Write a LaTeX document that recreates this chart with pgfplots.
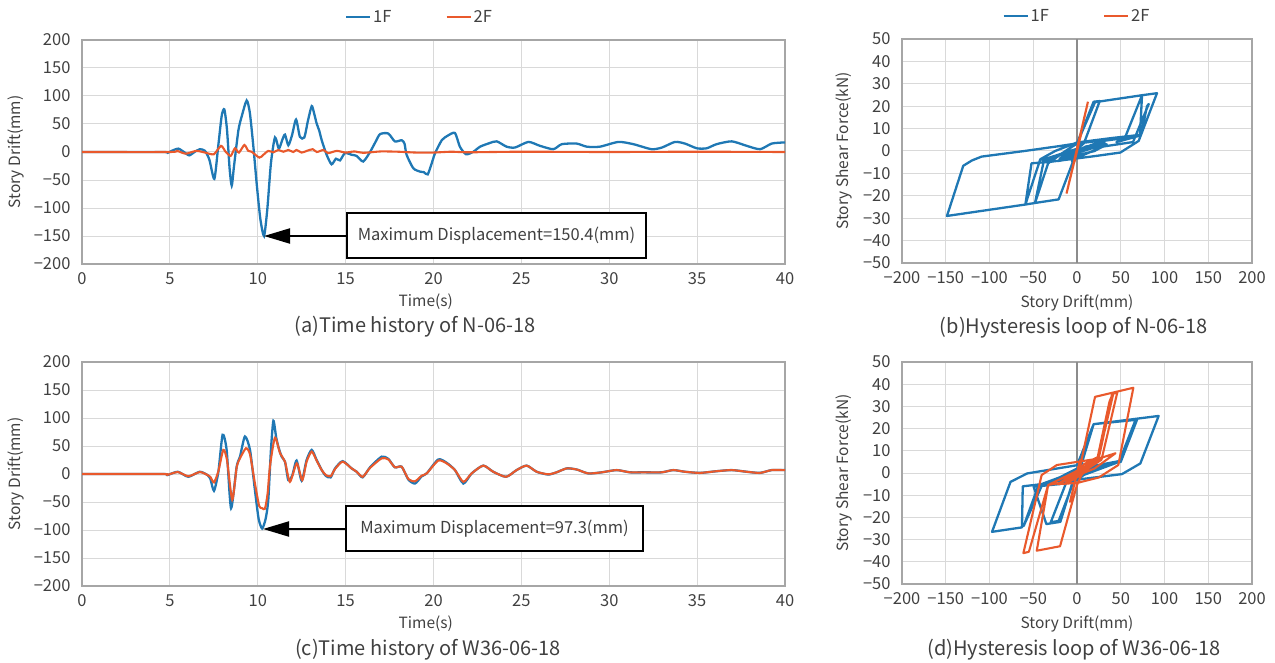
\documentclass[border=0pt]{standalone}
\usepackage{fontspec}
\setmainfont{Noto Sans CJK KR}
\usepackage{pgfplots}
\pgfplotsset{compat=1.18}
\usetikzlibrary{arrows.meta}
\definecolor{c1}{HTML}{1F78B4}
\definecolor{c2}{HTML}{E9592C}
\definecolor{gridc}{HTML}{D9D9D9}
\definecolor{axc}{HTML}{A6A6A6}
\definecolor{zeroc}{HTML}{8C8C8C}
\definecolor{txt}{HTML}{404040}
\newcommand\tfont{\fontsize{16.5}{19}\selectfont}
\newcommand\lfont{\fontsize{15.5}{18}\selectfont}
\newcommand\cfont{\fontsize{20}{24}\selectfont}
\pgfplotsset{
 base/.style={scale only axis, axis line style={draw=axc, line width=1.3pt},
  /pgf/number format/assume math mode=true,
  grid=major, major grid style={draw=gridc, line width=1pt},
  major tick length=0pt, tick style={draw=none},
  ticklabel style={font=\tfont, text=txt},
  xticklabel style={yshift=-5pt}, yticklabel style={xshift=-8pt},
  label style={font=\lfont, text=txt}},
 th/.style={base, width=703pt, height=224pt, xmin=0, xmax=40, ymin=-200, ymax=200,
  xtick={0,5,...,40}, xticklabels={0,5,10,15,20,25,30,35,40},
  ytick={-200,-150,...,200},
  yticklabels={−200,−150,−100,−50,0,50,100,150,200},
  xlabel={Time(s)}, ylabel={Story Drift(mm)},
  xlabel style={at={(axis description cs:0.489,-0.1696)}, anchor=center},
  ylabel style={at={(axis description cs:-0.0939,0.5)}, anchor=center}},
 hy/.style={base, width=350pt, xmin=-200, xmax=200, ymin=-50, ymax=50,
  xtick={-200,-150,...,200}, ytick={-50,-40,...,50},
  xticklabels={−200,−150,−100,−50,0,50,100,150,200},
  yticklabels={−50,−40,−30,−20,−10,0,10,20,30,40,50},
  extra x ticks={0}, extra x tick labels={},
  extra x tick style={major grid style={draw=zeroc, line width=1.2pt}},
  xlabel={Story Drift(mm)}, ylabel={Story Shear Force(kN)},
  xlabel style={at={(axis description cs:0.5,-0.1786)}, anchor=center},
  ylabel style={at={(axis description cs:-0.1657,0.5)}, anchor=center}},
 leg/.style={legend columns=2, legend style={draw=none, fill=none, font=\tfont, text=txt,
  /tikz/every even column/.append style={column sep=52pt}},
  legend image code/.code={\draw[##1, line width=2.2pt] (0pt,0pt)--(24pt,0pt);}},
 l1/.style={c1, line width=2.3pt},
 l2/.style={c2, line width=2.1pt}
}
\begin{document}
\begin{tikzpicture}
\useasboundingbox (0,0) rectangle (1275pt,-663pt);
% (a)
\begin{axis}[th, leg, at={(82pt,-264pt)}, anchor=south west,
  legend style={at={(0.48,1)}, anchor=center, yshift=23pt}]
\addplot[l1, smooth, tension=0.4] coordinates {
(0,0)(4.6,0)(4.82,-2)(5.1,2)(5.48,6)(5.8,0)(6.1,-6)(6.4,0)(6.71,5)(7.0,2)(7.25,-14)(7.53,-48)(7.75,10)(7.95,65)(8.10,76)(8.25,40)(8.40,-30)(8.52,-60)(8.65,-25)(8.9,39)(9.1,65)(9.37,92)(9.55,70)(9.75,10)(9.95,-60)(10.15,-120)(10.36,-150)(10.55,-100)(10.75,-20)(10.98,26)(11.2,6)(11.4,22)(11.55,31)(11.74,12)(11.95,30)(12.18,58)(12.4,27)(12.65,26)(12.85,55)(13.07,82)(13.2,70)(13.35,51)(13.5,38)(13.64,21)(13.92,-5)(14.2,-22)(14.45,-12)(14.68,-15)(14.96,-2)(15.35,-5)(15.63,-7)(16.0,-17)(16.39,0)(16.7,18)(16.96,32)(17.43,33)(17.8,19)(18.19,21)(18.35,15)(18.47,-5)(18.85,-29)(19.23,-35)(19.45,-36)(19.67,-40)(19.9,-20)(20.09,-2)(20.47,21)(20.8,29)(21.22,34)(21.5,9.5)(21.85,-4)(22.27,0.5)(22.65,9.5)(23.2,16)(23.6,19)(24.16,9.5)(24.64,8)(25.4,18)(26.06,11)(26.82,5)(27.3,14)(28.15,15)(28.72,9.5)(29.47,9.5)(30.52,18)(31.37,14)(32.4,5)(33.0,8)(33.74,18)(34.31,15)(34.98,6.6)(35.54,6.6)(36.11,14)(36.97,19)(37.82,11)(38.58,5)(39.24,15)(39.9,17)(40,17)};
\addlegendentry{1F}
\addplot[l2, smooth, tension=0.4] coordinates {
(0,0)(5.0,0)(5.4,2)(5.9,-3)(6.5,2)(7.0,-1)(7.5,-4)(7.91,11)(8.17,0.5)(8.46,-7)(8.7,6.6)(8.93,-1)(9.24,12.5)(9.46,2)(9.65,0.5)(10.09,-10)(10.32,-5)(10.6,2)(10.89,-0.5)(11.17,3.6)(11.46,0.5)(11.74,3.6)(12.02,0)(12.2,3.6)(12.5,-1)(12.79,2)(13.13,5)(13.36,0)(13.74,3.6)(14.0,-2)(14.5,2)(15,-1)(15.5,1)(16,-1.5)(17,1)(18,0.5)(19,-1)(20,-1)(21,0.5)(22,-0.5)(25,0.5)(30,0)(35,0.5)(40,0)};
\addlegendentry{2F}
\end{axis}
% (c)
\begin{axis}[th, at={(82pt,-586pt)}, anchor=south west]
\addplot[l1, smooth, tension=0.4] coordinates {
(0,0)(4.6,0)(4.85,-2)(5.45,4)(6.05,-5)(6.7,4)(7.15,-2)(7.3,-8)(7.51,-30)(7.76,4)(8.0,70)(8.23,43)(8.48,-61)(8.8,13)(8.99,31)(9.27,67)(9.56,43)(9.84,-29)(10.05,-80)(10.25,-97.3)(10.45,-80)(10.6,-46)(10.75,43)(10.89,95)(11.05,65)(11.17,49)(11.36,31)(11.55,22)(11.74,-11)(11.97,-2)(12.21,24)(12.5,-12)(12.78,25)(13.07,43)(13.35,25)(13.64,7)(13.88,-3.6)(14.15,-6)(14.4,10)(14.83,23)(15.34,10)(15.63,4)(15.97,-6)(16.39,12)(17.05,31)(17.43,27)(17.8,12)(18.19,13)(18.57,-10)(18.95,-17)(19.33,-4)(19.61,1)(20.27,26)(20.75,20)(21.22,7)(21.7,-17)(22.17,1)(22.83,15)(23.4,4)(24.13,-5)(24.73,7)(25.3,15)(25.87,4)(26.53,-1)(27.0,3)(27.58,10)(28.15,8)(28.81,1)(29.57,3)(30.42,7)(31.18,3)(31.94,3)(32.98,3)(33.64,7)(34.31,4)(35.16,2)(36.11,5)(36.97,7)(37.82,4)(38.58,2)(39.24,7)(39.9,7)(40,7)};
\addplot[l2, smooth, tension=0.4] coordinates {
(0,0)(4.6,0)(4.85,-1.5)(5.45,3.5)(6.05,-4)(6.7,3.5)(7.15,-2)(7.3,-5)(7.51,-15)(7.76,5)(8.04,43)(8.25,25)(8.55,-46)(8.8,12)(8.99,28)(9.33,46)(9.56,35)(9.84,-17)(10.08,-57)(10.25,-61)(10.41,-62)(10.56,-35)(10.7,15)(10.98,65)(11.27,37)(11.55,22)(11.83,-14)(12.22,19)(12.53,-11)(12.78,22)(13.07,40)(13.35,24)(13.64,7)(13.88,-2)(14.15,-4)(14.4,9)(14.83,22)(15.34,10)(15.63,4)(15.97,-5)(16.39,11)(17.05,28)(17.43,26)(17.8,12)(18.19,13)(18.57,-9)(18.95,-13)(19.33,-3)(19.61,1)(20.27,24)(20.75,19)(21.22,7)(21.7,-14)(22.17,1)(22.83,15)(23.4,4)(24.13,-5)(24.73,7)(25.3,15)(25.87,4)(26.53,-0.5)(27.0,3)(27.58,10)(28.15,8)(28.81,1)(29.57,3)(30.42,7)(31.18,3)(31.94,3)(32.98,3)(33.64,7)(34.31,4)(35.16,2)(36.11,5)(36.97,7)(37.82,4)(38.58,2)(39.24,7)(39.9,7)(40,7)};
\end{axis}
% (b)
\begin{axis}[hy, leg, height=224pt, at={(902pt,-263pt)}, anchor=south west,
  legend style={at={(0.5,1)}, anchor=center, yshift=23pt}]
\addplot[l1, line join=round] coordinates {
(0,0)(4,3.5)(-6,-4.5)(4,3.5)(0,0)(-21,-21.6)(-48,-23.2)(-33,-5.5)(-15,-0.5)(0,3.4)(20.6,21.8)(74.3,24.9)(55.2,6.3)(30,4.8)(0,3.3)(-25,-3)(-38,-4.5)(-48,-23.2)(-59,-23.9)(-42,-3.7)(-25,0)(0,3.8)(40,5.8)(72,7.2)(74.3,24.9)(91.4,25.8)(70.5,4.5)(49.5,-0.7)(20,-2.3)(0,-3.3)(-30,-4.8)(-52,-5.5)(-59,-23.9)(-148.6,-29)(-130,-6.6)(-120,-4.2)(-109,-2.5)(-60,0)(-20,2.2)(0,3.4)(19,22)(26,22.3)(8,3.5)(-5,-1)(10,2)(32,3.5)(15,2.5)(30,4.5)(58,6)(45,4)(50,4.5)(73,7)(80,20)(82,21)(64,4)(30,2)(0,-3)(-22,-4.5)(0,-2)(20,0)(34,3)(15,1)(-20,-3.5)(-5,0)(20,2)(-40,-4)(0,1)};
\addlegendentry{1F}
\addplot[l2] coordinates {(0,0)(5,8)(-3,-5)(12.5,22)(-12,-19)(3,5)(0,0)};
\addlegendentry{2F}
\end{axis}
% (d)
\begin{axis}[hy, height=222pt, at={(902pt,-584pt)}, anchor=south west,
  xlabel style={at={(axis description cs:0.5,-0.18)}}]
\addplot[l1, line join=round] coordinates {
(0,0)(3,3)(-5,-4)(3,3)(-21,-21.6)(-30,-22.2)(-12,-4)(0,1)(5,3.8)(19,22)(68.6,24)(50,5)(25,3)(0,1)(-20,-3)(-40,-5.5)(-61,-23.9)(-44,-5.5)(-20,-2)(0,2)(30,4)(50,5.5)(67,24)(48,5)(0,-2)(-40,-5)(-62,-6)(-62.9,-24.5)(-97.1,-26.5)(-76,-4)(-57,-0.2)(0,3.5)(19,22)(93.3,25.7)(72.4,4.3)(51.4,-0.5)(0,-3)(-20,-5)(-49.5,-6.2)(-35,-23)(-19,-22)(-5,-4)(0,-2)(24,3.5)(0,-3)(-12,-4)(20,2)(43,4.5)(0,-2)(-6,-3)(23,3)(0,0)};
\addplot[l2, line join=round] coordinates {
(0,0)(3,5)(-3,-5)(4,6)(-8,-13)(0,0)(8,4)(24.4,7.3)(41.5,35.8)(24.4,7.3)(5,-1)(0,-5.4)(-19.4,-33)(-46,-35)(-33,-5.4)(-10,-1)(10,3)(24,6)(41.5,35.8)(46,36.2)(28,6)(5,0)(-20,-4.5)(-33,-5.4)(-55,-35.5)(-61.3,-36.1)(-40.4,-0.9)(-23,3.6)(0,5)(25,6.5)(44,8.9)(20,2)(1.5,-0.9)(20.6,34.3)(64.4,38.4)(47.2,3.6)(25,-2)(0,-4.5)(-22,-5)(-10,-2)(15,3)(24,6)(38,33)(39,34)(23,6)(0,-2)(-14,-5)(0,0)(19,6)(0,-2)(-11,-4)(0,0)(25,7)(40,35.5)(41,36)(25,7)(7,2)(-6,-3)(10,2)(23,6)(37,32)(38,33)(24,6)(0,-2)(-10,-3.5)(0,0)};
\end{axis}
% annotations
\draw[line width=2pt, -{Triangle[length=26pt,width=15pt]}] (347pt,-236pt) -- (264pt,-236pt);
\draw[line width=2pt, fill=white] (347pt,-213pt) rectangle (646pt,-258pt);
\node[font=\tfont, text=txt] at (496.5pt,-235.5pt) {Maximum Displacement=150.4(mm)};
\draw[line width=2pt, -{Triangle[length=26pt,width=15pt]}] (346pt,-529pt) -- (263pt,-529pt);
\draw[line width=2pt, fill=white] (346pt,-506pt) rectangle (643pt,-551pt);
\node[font=\tfont, text=txt] at (494.5pt,-528.5pt) {Maximum Displacement=97.3(mm)};
% captions
\node[font=\cfont, text=txt] at (415pt,-327pt) {(a)Time history of N-06-18};
\node[font=\cfont, text=txt] at (1074pt,-328pt) {(b)Hysteresis loop of N-06-18};
\node[font=\cfont, text=txt] at (428pt,-650pt) {(c)Time history of W36-06-18};
\node[font=\cfont, text=txt] at (1074pt,-650pt) {(d)Hysteresis loop of W36-06-18};
\end{tikzpicture}
\end{document}
